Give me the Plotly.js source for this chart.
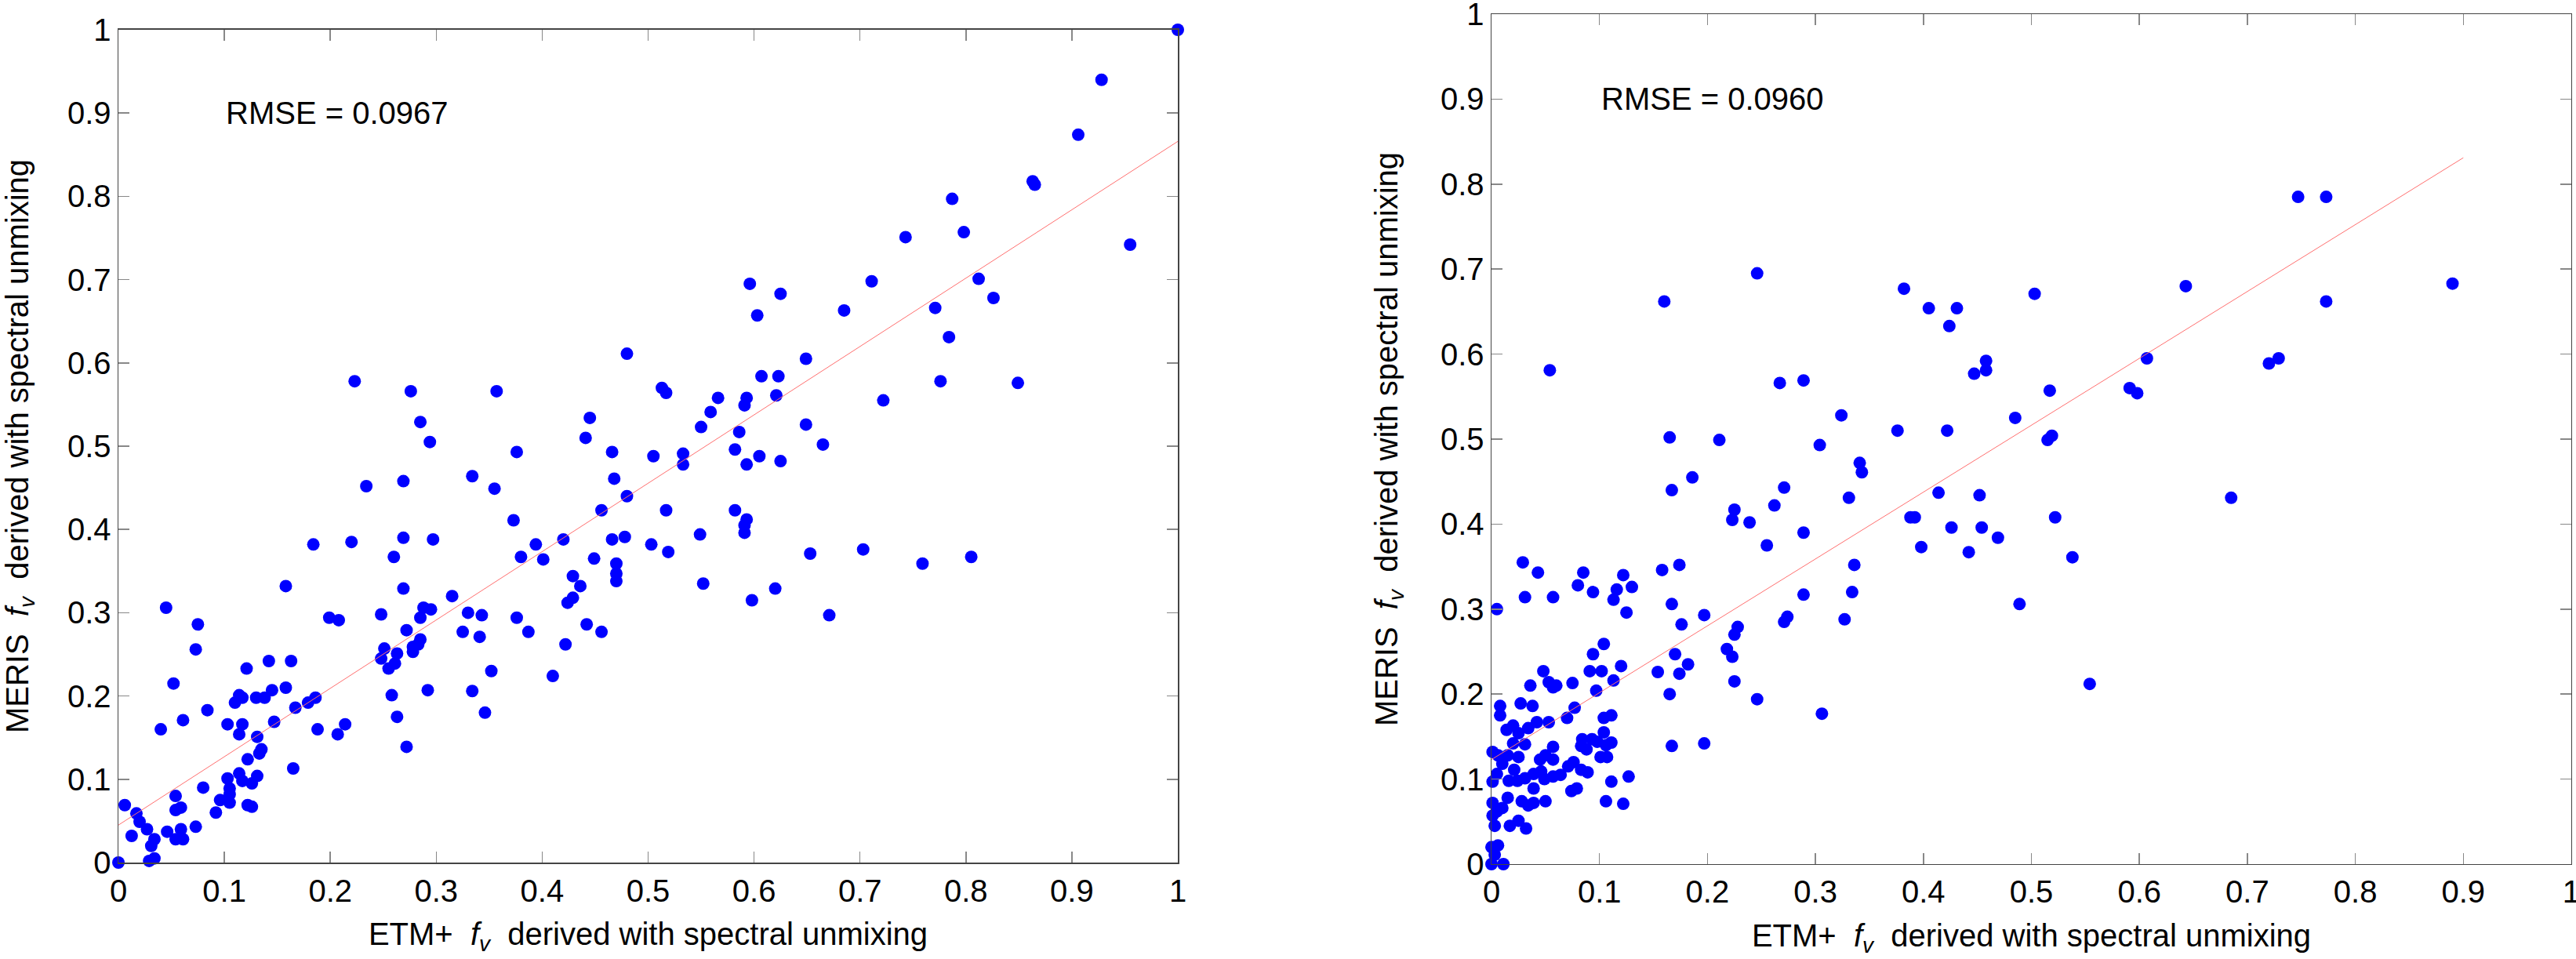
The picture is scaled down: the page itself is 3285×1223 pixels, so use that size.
<!DOCTYPE html>
<html>
<head>
<meta charset="utf-8">
<script src="https://cdn.plot.ly/plotly-3.0.1.min.js"></script>
<style>
  body { margin: 0; background: #fff; }
  #chart { width: 3285px; height: 1223px; }
</style>
</head>
<body>
<div id="chart"></div>
<script>
// left panel: ETM+ fv vs MERIS fv
var etmLeft = [
  0, 0.006, 0.0125, 0.017, 0.020, 0.027, 0.029, 0.031, 0.034, 0.034,
  0.040, 0.045, 0.046, 0.052, 0.054, 0.054, 0.054, 0.059, 0.059, 0.061,
  0.061, 0.073, 0.073, 0.075, 0.080, 0.084, 0.092, 0.096, 0.103, 0.103,
  0.105, 0.105, 0.105, 0.110, 0.114, 0.114, 0.117, 0.114, 0.117, 0.117,
  0.121, 0.122, 0.122, 0.126, 0.126, 0.130, 0.131, 0.131, 0.133, 0.135,
  0.138, 0.142, 0.145, 0.147, 0.158, 0.158, 0.163, 0.165, 0.167, 0.179,
  0.184, 0.186, 0.188, 0.199, 0.207, 0.208, 0.214, 0.220, 0.234, 0.248,
  0.248, 0.251, 0.255, 0.258, 0.260, 0.261, 0.263, 0.263, 0.269, 0.269,
  0.269, 0.272, 0.272, 0.278, 0.278, 0.283, 0.285, 0.285, 0.288, 0.292,
  0.295, 0.297, 0.294, 0.315, 0.325, 0.330, 0.334, 0.334, 0.341, 0.343,
  0.346, 0.352, 0.355, 0.373, 0.376, 0.376, 0.380, 0.387, 0.394, 0.401,
  0.410, 0.420, 0.422, 0.424, 0.429, 0.429, 0.436, 0.442, 0.449, 0.456,
  0.456, 0.466, 0.466, 0.468, 0.470, 0.470, 0.470, 0.478, 0.480, 0.441,
  0.223, 0.276, 0.285, 0.357, 0.445, 0.480,
  0.505, 0.503, 0.517, 0.519, 0.533, 0.533, 0.549, 0.552, 0.582, 0.582,
  0.593, 0.593, 0.591, 0.591, 0.598, 0.605, 0.620, 0.625, 0.653, 0.665,
  0.671, 0.703, 0.759, 0.805,
  1.0, 0.928, 0.906, 0.863, 0.865, 0.787, 0.798, 0.743, 0.955, 0.711,
  0.812, 0.826, 0.596, 0.625, 0.603, 0.685, 0.771, 0.784, 0.649, 0.607,
  0.623, 0.776, 0.849, 0.513, 0.517, 0.566, 0.593, 0.591, 0.621, 0.722,
  0.559, 0.550, 0.586, 0.649
];
var merisLeft = [
  0, 0.069, 0.032, 0.059, 0.049, 0.040, 0.002, 0.020, 0.028, 0.005,
  0.160, 0.306, 0.037, 0.215, 0.080, 0.063, 0.028, 0.066, 0.040, 0.028,
  0.171, 0.043, 0.256, 0.286, 0.090, 0.183, 0.060, 0.075, 0.101, 0.166,
  0.089, 0.082, 0.072, 0.192, 0.107, 0.201, 0.198, 0.154, 0.166, 0.098,
  0.233, 0.124, 0.069, 0.067, 0.095, 0.198, 0.151, 0.104, 0.131, 0.136,
  0.198, 0.242, 0.207, 0.169, 0.332, 0.210, 0.242, 0.113, 0.186, 0.192,
  0.382, 0.198, 0.160, 0.294, 0.154, 0.291, 0.166, 0.385, 0.452, 0.298,
  0.245, 0.257, 0.233, 0.201, 0.367, 0.239, 0.251, 0.175, 0.458, 0.390,
  0.329, 0.279, 0.139, 0.253, 0.259, 0.262, 0.268, 0.294, 0.306, 0.207,
  0.304, 0.388, 0.505, 0.320, 0.277, 0.300, 0.464, 0.206, 0.271, 0.297,
  0.180, 0.230, 0.449, 0.411, 0.493, 0.294, 0.367, 0.277, 0.382, 0.364,
  0.224, 0.388, 0.262, 0.312, 0.344, 0.318, 0.332, 0.286, 0.365, 0.277,
  0.423, 0.493, 0.388, 0.461, 0.359, 0.347, 0.338, 0.391, 0.440, 0.510,
  0.578, 0.566, 0.529, 0.566, 0.534, 0.611,
  0.488, 0.382, 0.423, 0.373, 0.491, 0.478, 0.394, 0.335, 0.496, 0.423,
  0.478, 0.412, 0.405, 0.396, 0.315, 0.488, 0.329, 0.482, 0.371, 0.502,
  0.297, 0.376, 0.359, 0.367,
  1.0, 0.940, 0.874, 0.818, 0.814, 0.797, 0.757, 0.751, 0.742, 0.698,
  0.701, 0.678, 0.695, 0.683, 0.657, 0.663, 0.666, 0.631, 0.605, 0.584,
  0.584, 0.578, 0.576, 0.570, 0.564, 0.558, 0.558, 0.549, 0.561, 0.555,
  0.541, 0.523, 0.517, 0.526
];

// right panel
var etmRight = [
  0.054, 0.160, 0.246, 0.267, 0.289, 0.324, 0.382, 0.405, 0.431, 0.424,
  0.458, 0.458, 0.447, 0.165, 0.211, 0.304, 0.376, 0.422, 0.341, 0.343,
  0.186,
  0.167, 0.271, 0.331, 0.262, 0.225, 0.223, 0.239, 0.414, 0.452, 0.388,
  0.392, 0.426, 0.454, 0.289, 0.255, 0.398, 0.442, 0.158, 0.174, 0.336,
  0.334, 0.289, 0.167, 0.197, 0.176, 0.274, 0.271, 0.327, 0.228, 0.225,
  0.218, 0.223, 0.170, 0.182, 0.174, 0.154, 0.225, 0.165, 0.246, 0.306,
  0.167, 0.197,
  0.747, 0.773, 0.890, 0.773, 0.643, 0.503, 0.607, 0.720, 0.729, 0.517,
  0.591, 0.598, 0.485, 0.515, 0.519, 0.685, 0.522, 0.469, 0.538, 0.489,
  0.554,
  0.029, 0.043, 0.031, 0.057, 0.005, 0.085, 0.080, 0.094, 0.122, 0.116,
  0.130, 0.113, 0.125, 0.104, 0.094, 0.091, 0.102, 0.120, 0.113, 0.048,
  0.036, 0.053, 0.057, 0.060, 0.075, 0.097, 0.008, 0.008, 0.027, 0.038,
  0.077, 0.070, 0.104, 0.111, 0.014, 0.020, 0.025, 0.034, 0.042, 0.053,
  0.020, 0.031, 0.057, 0.104, 0.001, 0.006, 0.015, 0.025, 0.045, 0.050,
  0.057, 0.083, 0.088, 0.084, 0.093, 0.098, 0.106, 0.111, 0.101, 0.107,
  0.010, 0.005, 0.001, 0.016, 0.021, 0.024, 0.031, 0.039, 0.046, 0.049,
  0.057, 0.064, 0.071, 0.076, 0.083, 0.089, 0.039, 0.074, 0.079, 0.111,
  0.127, 0.001, 0.015, 0.010, 0.005, 0.001, 0.003, 0.017, 0.025, 0.032,
  0.028, 0.034, 0.039, 0.050, 0.106, 0.122, 0.000, 0.006, 0.003, 0.000,
  0.011
];
var merisRight = [
  0.581, 0.662, 0.695, 0.566, 0.569, 0.528, 0.677, 0.654, 0.654, 0.633,
  0.592, 0.581, 0.577, 0.502, 0.499, 0.493, 0.510, 0.510, 0.472, 0.461,
  0.455,
  0.440, 0.443, 0.431, 0.422, 0.417, 0.405, 0.402, 0.437, 0.434, 0.408,
  0.408, 0.396, 0.396, 0.390, 0.375, 0.373, 0.367, 0.346, 0.352, 0.352,
  0.320, 0.317, 0.306, 0.293, 0.282, 0.291, 0.285, 0.288, 0.279, 0.270,
  0.253, 0.244, 0.247, 0.235, 0.224, 0.226, 0.215, 0.200, 0.194, 0.177,
  0.139, 0.142,
  0.785, 0.785, 0.683, 0.662, 0.680, 0.671, 0.595, 0.589, 0.595, 0.557,
  0.560, 0.554, 0.525, 0.499, 0.504, 0.431, 0.408, 0.384, 0.361, 0.306,
  0.212,
  0.355, 0.343, 0.314, 0.314, 0.300, 0.343, 0.328, 0.320, 0.340, 0.323,
  0.326, 0.311, 0.296, 0.259, 0.247, 0.227, 0.227, 0.233, 0.216, 0.227,
  0.210, 0.214, 0.208, 0.210, 0.213, 0.204, 0.186, 0.175, 0.189, 0.186,
  0.184, 0.172, 0.172, 0.175, 0.158, 0.163, 0.154, 0.160, 0.167, 0.167,
  0.142, 0.141, 0.138, 0.155, 0.132, 0.128, 0.128, 0.126, 0.123, 0.128,
  0.123, 0.139, 0.135, 0.147, 0.147, 0.144, 0.140, 0.143, 0.126, 0.126,
  0.118, 0.106, 0.097, 0.098, 0.111, 0.098, 0.101, 0.106, 0.109, 0.100,
  0.103, 0.105, 0.115, 0.120, 0.111, 0.108, 0.089, 0.086, 0.089, 0.097,
  0.103, 0.072, 0.078, 0.066, 0.062, 0.057, 0.045, 0.045, 0.051, 0.042,
  0.074, 0.069, 0.072, 0.074, 0.074, 0.071, 0.020, 0.022, 0.011, 0.000,
  0.000
];

// regression lines (end points)
var fitXLeft = [0, 1];
var fitYLeft = [0.045, 0.866];
var fitXRight = [0, 0.9];
var fitYRight = [0.123, 0.831];

var rmseLeft = "RMSE = 0.0967";
var rmseRight = "RMSE = 0.0960";

var xTitle = "ETM+&nbsp;&nbsp;<i>f</i><sub><i>v</i></sub>&nbsp;&nbsp;derived with spectral unmixing";
var yTitle = "MERIS&nbsp;&nbsp;<i>f</i><sub><i>v</i></sub>&nbsp;&nbsp;derived with spectral unmixing";

var font = "Liberation Sans, Arial, sans-serif";

function dots(x, y, xa, ya) {
  return {
    x: x, y: y, xaxis: xa, yaxis: ya,
    type: "scatter", mode: "markers",
    marker: {color: "#0000ff", size: 16},
    cliponaxis: false,
    showlegend: false
  };
}
function fit(x, y, xa, ya) {
  return {
    x: x, y: y, xaxis: xa, yaxis: ya,
    type: "scatter", mode: "lines",
    line: {color: "#ff7070", width: 1},
    showlegend: false
  };
}

function axis(domain, anchor, title, standoff) {
  return {
    domain: domain, anchor: anchor,
    range: [0, 1], tick0: 0, dtick: 0.1,
    ticks: "inside", ticklen: 14, tickwidth: 1.5, tickcolor: "#888",
    showline: true, linecolor: "#444", linewidth: 1.5, mirror: "ticks",
    showgrid: false, zeroline: false,
    ticklabeloverflow: "allow",
    tickfont: {size: 40, color: "#000"},
    title: {text: title, standoff: standoff, font: {size: 40, color: "#000"}}
  };
}

var data = [
  dots(etmLeft, merisLeft, "x", "y"),
  fit(fitXLeft, fitYLeft, "x", "y"),
  dots(etmRight, merisRight, "x2", "y2"),
  fit(fitXRight, fitYRight, "x2", "y2")
];

var layout = {
  width: 3285, height: 1223,
  margin: {l: 0, r: 0, t: 0, b: 0},
  paper_bgcolor: "#fff", plot_bgcolor: "#fff",
  font: {family: font, size: 40, color: "#000"},
  xaxis: axis([0.04597, 0.45723], "y", xTitle, 20),
  yaxis: axis([0.10057, 0.96893], "x", yTitle, 44),
  xaxis2: axis([0.57900, 0.99817], "y2", xTitle, 20),
  yaxis2: axis([0.09894, 0.98528], "x2", yTitle, 42),
  annotations: [
    {xref: "x", yref: "y", x: 0.1, y: 0.9, xanchor: "left", yanchor: "middle",
     text: rmseLeft, showarrow: false, font: {size: 40}},
    {xref: "x2", yref: "y2", x: 0.1, y: 0.9, xanchor: "left", yanchor: "middle",
     text: rmseRight, showarrow: false, font: {size: 40}}
  ]
};

Plotly.newPlot("chart", data, layout, {staticPlot: true});
</script>
</body>
</html>
